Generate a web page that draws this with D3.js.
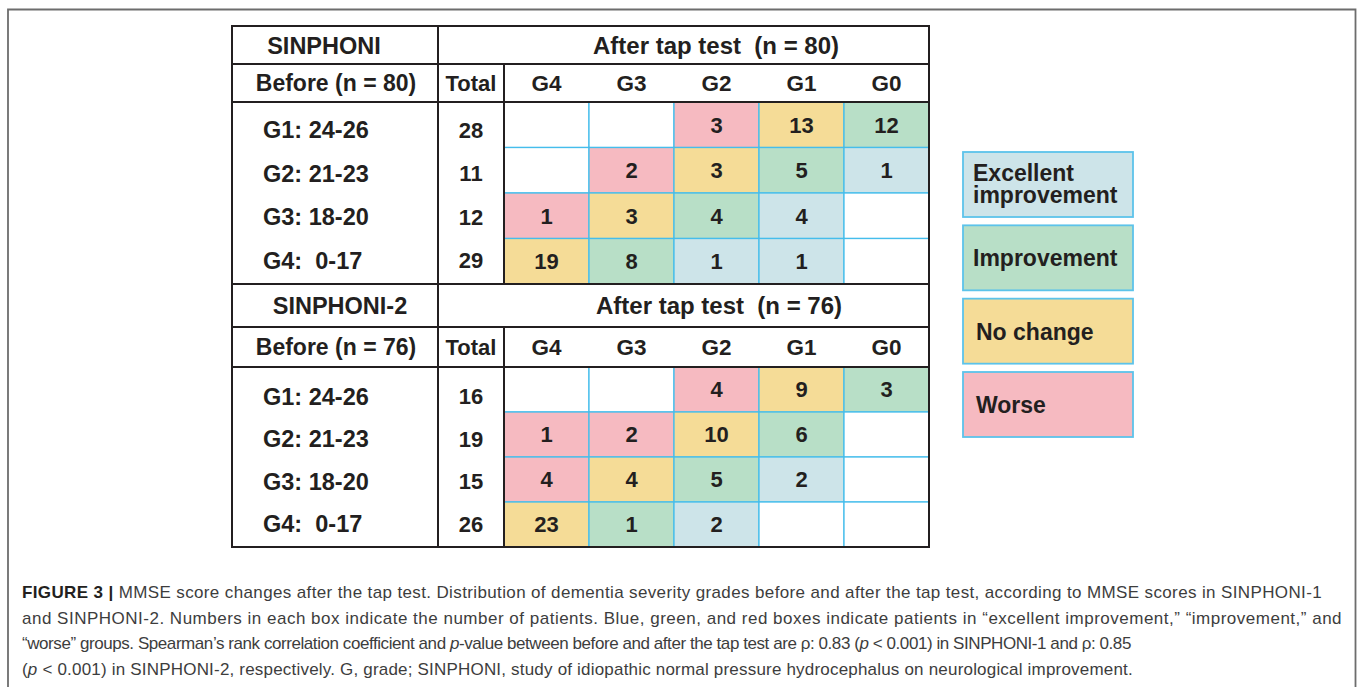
<!DOCTYPE html>
<html>
<head>
<meta charset="utf-8">
<script src="https://cdn.jsdelivr.net/npm/d3@7"></script>
<style>
  body { margin: 0; background: #fff; }
  svg text { font-family: "Liberation Sans", Arial, Helvetica, sans-serif; fill: #231f20; white-space: pre; }
</style>
</head>
<body>
<script>
// ---- data ----
const afterGrades = ["G4", "G3", "G2", "G1", "G0"];
const beforeGrades = ["G1", "G2", "G3", "G4"];
const beforeLabels = ["G1: 24-26", "G2: 21-23", "G3: 18-20", "G4:  0-17"];

const studyNames = ["SINPHONI", "SINPHONI-2"];
const nBefore = [80, 76];
const nAfter = [80, 76];

const sinphoni1Counts = [
  [null, null, 3, 13, 12],
  [null, 2, 3, 5, 1],
  [1, 3, 4, 4, null],
  [19, 8, 1, 1, null],
];
const sinphoni1Totals = [28, 11, 12, 29];

const sinphoni2Counts = [
  [null, null, 4, 9, 3],
  [1, 2, 10, 6, null],
  [4, 4, 5, 2, null],
  [23, 1, 2, null, null],
];
const sinphoni2Totals = [16, 19, 15, 26];

const categories = ["excellent", "improvement", "nochange", "worse"];
const legendLabels = [["Excellent", "improvement"], ["Improvement"], ["No change"], ["Worse"]];

const captionLines = [
  [["FIGURE 3 | ", "b"], ["MMSE score changes after the tap test. Distribution of dementia severity grades before and after the tap test, according to MMSE scores in SINPHONI-1"]],
  [["and SINPHONI-2. Numbers in each box indicate the number of patients. Blue, green, and red boxes indicate patients in \u201cexcellent improvement,\u201d \u201cimprovement,\u201d and"]],
  [["\u201cworse\u201d groups. Spearman\u2019s rank correlation coefficient and "], ["p", "i"], ["-value between before and after the tap test are \u03c1: 0.83 ("], ["p", "i"], [" < 0.001) in SINPHONI-1 and \u03c1: 0.85"]],
  [["("], ["p", "i"], [" < 0.001) in SINPHONI-2, respectively. G, grade; SINPHONI, study of idiopathic normal pressure hydrocephalus on neurological improvement."]],
];
// line widths as printed in the figure
const captionWidths = [1300, 1320, 1109, 1111];

// ---- setup ----
const width = 1357;
const height = 687;

const color = d3.scaleOrdinal()
  .domain(categories)
  .range(["#cde4e9", "#b8dfc7", "#f5dc97", "#f6bac1"]);

const gridBlue = "#45bdec";
const ink = "#231f20";

// category from how many grades the patient moved
function category(before, after) {
  const diff = +before.slice(1) - +after.slice(1);
  if (diff < 0) return "worse";
  if (diff === 0) return "nochange";
  if (diff === 1) return "improvement";
  return "excellent";
}

const svg = d3.select("body").append("svg")
  .attr("width", width)
  .attr("height", height);

// outer frame (open at the bottom)
svg.append("path")
  .attr("d", `M8,${height + 5}V9.5H1355.5V${height + 5}`)
  .attr("fill", "none")
  .attr("stroke", "#6d6d6d")
  .attr("stroke-width", 1.8);

const tableLeft = 232, totalLeft = 438, gridLeft = 504, tableRight = 929;

const x = d3.scaleBand().domain(afterGrades).range([gridLeft, tableRight]);

function drawTable(cfg) {
  const g = svg.append("g");
  const y = d3.scaleBand().domain(beforeGrades).range([cfg.headerBottom, cfg.bottom]);
  const yLab = d3.scaleBand().domain(beforeGrades).range(cfg.labelRange);

  const cells = cfg.counts.flatMap((row, i) =>
    row.map((v, j) => ({ before: beforeGrades[i], after: afterGrades[j], v })));

  g.selectAll("rect.cell").data(cells).join("rect")
    .attr("class", "cell")
    .attr("x", d => x(d.after))
    .attr("y", d => y(d.before))
    .attr("width", x.bandwidth())
    .attr("height", y.bandwidth())
    .attr("fill", d => d.v == null ? "#fff" : color(category(d.before, d.after)))
    .attr("stroke", gridBlue)
    .attr("stroke-width", 1.3);

  g.selectAll("text.num").data(cells.filter(d => d.v != null)).join("text")
    .attr("class", "num")
    .attr("x", d => x(d.after) + x.bandwidth() / 2)
    .attr("y", d => y(d.before) + y.bandwidth() / 2 + 7.8)
    .attr("text-anchor", "middle")
    .attr("font-size", 22)
    .attr("font-weight", "bold")
    .text(d => d.v);

  // row labels and totals
  g.selectAll("text.rowlab").data(beforeGrades).join("text")
    .attr("class", "rowlab")
    .attr("x", 263)
    .attr("y", d => yLab(d) + yLab.bandwidth() / 2 + 8.3)
    .attr("font-size", 23.5)
    .attr("font-weight", "bold")
    .text((d, i) => beforeLabels[i]);

  g.selectAll("text.total").data(beforeGrades).join("text")
    .attr("class", "total")
    .attr("x", (totalLeft + gridLeft) / 2)
    .attr("y", d => yLab(d) + yLab.bandwidth() / 2 + 8)
    .attr("text-anchor", "middle")
    .attr("font-size", 22)
    .attr("font-weight", "bold")
    .text((d, i) => cfg.totals[i]);

  // header row
  const hy = (cfg.titleBottom + cfg.headerBottom) / 2 + 8.3;
  g.append("text")
    .attr("x", cfg.beforeX).attr("y", hy)
    .attr("text-anchor", "middle")
    .attr("font-size", 23).attr("font-weight", "bold")
    .text(`Before (n = ${cfg.nB})`);
  g.append("text")
    .attr("x", (totalLeft + gridLeft) / 2).attr("y", hy)
    .attr("text-anchor", "middle")
    .attr("font-size", 22).attr("font-weight", "bold")
    .text("Total");
  g.selectAll("text.colhead").data(afterGrades).join("text")
    .attr("class", "colhead")
    .attr("x", d => x(d) + x.bandwidth() / 2)
    .attr("y", hy)
    .attr("text-anchor", "middle")
    .attr("font-size", 22.5).attr("font-weight", "bold")
    .text(d => d);

  // title row
  const ty = (cfg.top + cfg.titleBottom) / 2 + 8.5;
  g.append("text")
    .attr("x", cfg.nameX).attr("y", ty)
    .attr("text-anchor", "middle")
    .attr("font-size", 23.5).attr("font-weight", "bold")
    .text(cfg.name);
  g.append("text")
    .attr("x", cfg.afterX).attr("y", ty)
    .attr("text-anchor", "middle")
    .attr("font-size", 24).attr("font-weight", "bold")
    .text(`After tap test  (n = ${cfg.nA})`);

  // black rules
  const rules = g.append("g").attr("stroke", ink).attr("stroke-width", 2);
  [cfg.top, cfg.titleBottom, cfg.headerBottom, cfg.bottom].forEach(yy => {
    rules.append("line").attr("x1", tableLeft - 1).attr("x2", tableRight + 1).attr("y1", yy).attr("y2", yy);
  });
  [tableLeft, totalLeft, tableRight].forEach(xx => {
    rules.append("line").attr("x1", xx).attr("x2", xx).attr("y1", cfg.top).attr("y2", cfg.bottom);
  });
  rules.append("line").attr("x1", gridLeft).attr("x2", gridLeft)
    .attr("y1", cfg.titleBottom).attr("y2", cfg.bottom);
}

drawTable({
  top: 26, titleBottom: 64, headerBottom: 102, bottom: 284,
  labelRange: [108, 282],
  counts: sinphoni1Counts, totals: sinphoni1Totals,
  name: studyNames[0], nB: nBefore[0], nA: nAfter[0],
  nameX: 324, beforeX: 336, afterX: 716,
});

drawTable({
  top: 284, titleBottom: 327, headerBottom: 367, bottom: 547,
  labelRange: [375, 545],
  counts: sinphoni2Counts, totals: sinphoni2Totals,
  name: studyNames[1], nB: nBefore[1], nA: nAfter[1],
  nameX: 340, beforeX: 336, afterX: 719,
});

// ---- legend ----
const ly = d3.scaleBand().domain(categories).range([152, 437]).paddingInner(0.1136);
const legend = svg.append("g").selectAll("g").data(categories).join("g")
  .attr("transform", d => `translate(963,${ly(d)})`);

legend.append("rect")
  .attr("width", 170)
  .attr("height", ly.bandwidth())
  .attr("fill", d => color(d))
  .attr("stroke", "#5cc3ea")
  .attr("stroke-width", 1.8);

legend.each(function (d, i) {
  const lines = legendLabels[i];
  const h = ly.bandwidth();
  const el = d3.select(this);
  const dx = lines.length > 1 || d === "improvement" ? 10 : 13;
  lines.forEach((t, k) => {
    el.append("text")
      .attr("x", dx)
      .attr("y", lines.length > 1 ? h / 2 - 4 + k * 22 : h / 2 + 8.5)
      .attr("font-size", 23)
      .attr("font-weight", "bold")
      .text(t);
  });
});

// ---- caption ----
const cap = svg.append("g").selectAll("text").data(captionLines).join("text")
  .attr("x", 22)
  .attr("y", (d, i) => 598 + i * 25.7)
  .attr("font-size", 17);

cap.selectAll("tspan").data(d => d).join("tspan")
  .style("fill", s => s[1] === "b" ? ink : "#3d3d3d")
  .attr("font-weight", s => s[1] === "b" ? "bold" : "normal")
  .attr("font-style", s => s[1] === "i" ? "italic" : "normal")
  .text(s => s[0]);

// spread each line to the printed width with letter spacing
cap.each(function (d, i) {
  const natural = this.getComputedTextLength();
  const n = this.textContent.length;
  d3.select(this).attr("letter-spacing", ((captionWidths[i] - natural) / n).toFixed(3));
});
</script>
</body>
</html>
